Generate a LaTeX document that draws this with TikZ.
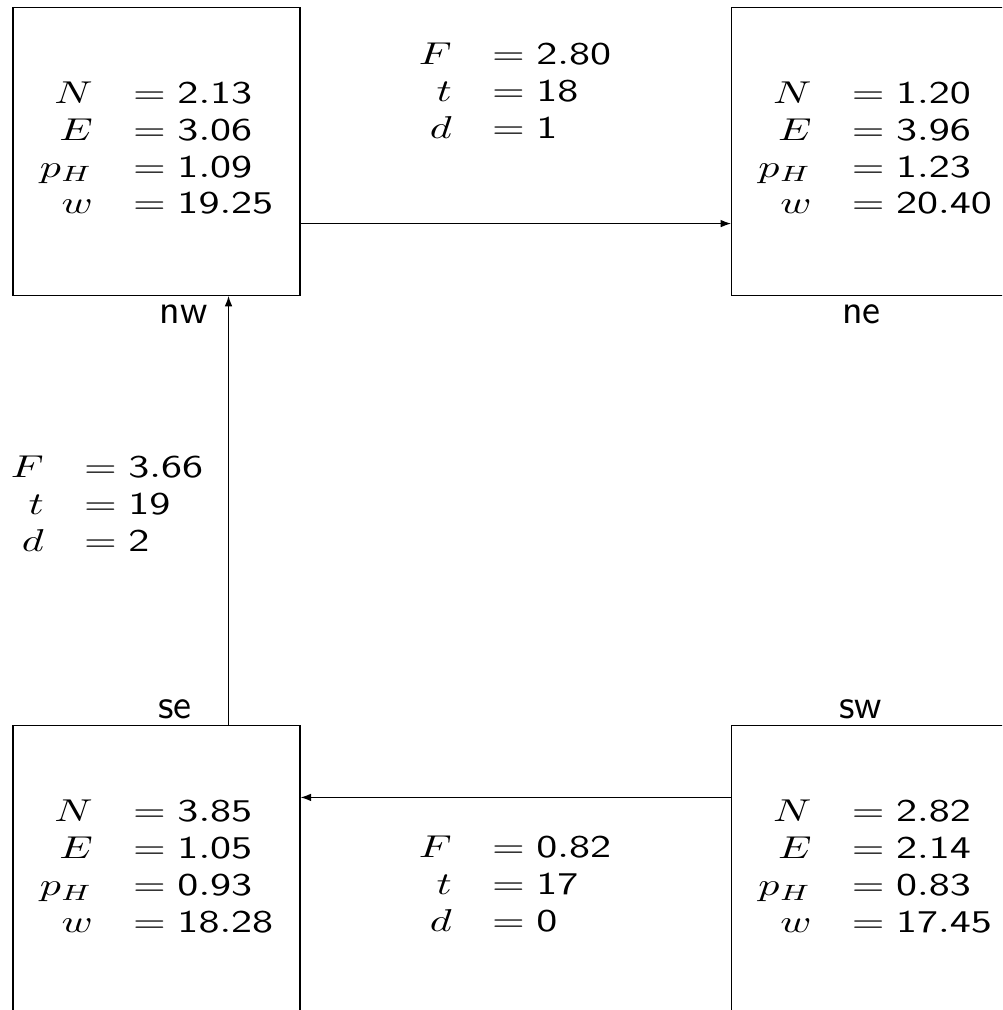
\documentclass[tikz,border=0pt]{standalone}
\usepackage{graphicx}
\usetikzlibrary{arrows.meta,calc}
\newcommand{\stats}[1]{\scalebox{1.33}[1]{$\renewcommand{\arraystretch}{0.97}\setlength{\arraycolsep}{4.8pt}\begin{array}{rl}#1\end{array}$}}
\begin{document}
\begin{tikzpicture}[x=0.3165pt,y=-0.3165pt,
  box/.style={draw, line width=0.4pt, inner sep=0pt, minimum width=90.8pt, minimum height=91.1pt},
  lbl/.style={font=\fontsize{13}{15}\selectfont\sffamily, inner sep=0pt, anchor=base},
  elab/.style={inner sep=0pt},
  arr/.style={-{Latex[length=3.3pt,width=2.4pt]}, line width=0.4pt}]
\useasboundingbox (0,0) rectangle (1002,1010);
\clip (0,0) rectangle (1002,1010);
\node[box] (nw) at (156.5,151.3) {\stats{N & = \mathsf{2.13}\\ E & = \mathsf{3.06}\\ p_H & = \mathsf{1.09}\\ w & = \mathsf{19.25}}};
\node[box] (ne) at (875.2,151.3) {\stats{N & = \mathsf{1.20}\\ E & = \mathsf{3.96}\\ p_H & = \mathsf{1.23}\\ w & = \mathsf{20.40}}};
\node[box] (se) at (156.5,869.7) {\stats{N & = \mathsf{3.85}\\ E & = \mathsf{1.05}\\ p_H & = \mathsf{0.93}\\ w & = \mathsf{18.28}}};
\node[box] (sw) at (875.2,869.7) {\stats{N & = \mathsf{2.82}\\ E & = \mathsf{2.14}\\ p_H & = \mathsf{0.83}\\ w & = \mathsf{17.45}}};
\node[lbl] (lnw) at (183.5,323) {nw};
\node[lbl] (lne) at (861.3,323) {ne};
\node[lbl] (lse) at (175,718) {se};
\node[lbl] (lsw) at (860.6,718) {sw};
\draw[arr] ($(nw.south east)!0.25!(nw.north east)$) -- ($(ne.south west)!0.25!(ne.north west)$);
\draw[arr] ($(se.north west)!0.75!(se.north east)$) -- ($(nw.south west)!0.75!(nw.south east)$);
\draw[arr] ($(sw.north west)!0.25!(sw.south west)$) -- ($(se.north east)!0.25!(se.south east)$);
\node[elab] (e1) at (515,94.4) {\stats{F & = \mathsf{2.80}\\ t & = \mathsf{18}\\ d & = \mathsf{1}}};
\node[elab] (e2) at (107,507.4) {\stats{F & = \mathsf{3.66}\\ t & = \mathsf{19}\\ d & = \mathsf{2}}};
\node[elab] (e3) at (515,887.4) {\stats{F & = \mathsf{0.82}\\ t & = \mathsf{17}\\ d & = \mathsf{0}}};
\end{tikzpicture}
\end{document}
